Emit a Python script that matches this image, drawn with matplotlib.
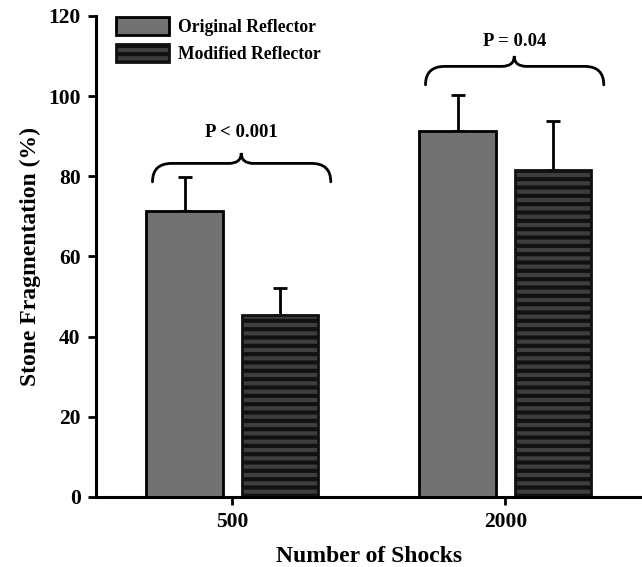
import numpy as np
import matplotlib
matplotlib.use("Agg")
import matplotlib.pyplot as plt
from matplotlib.path import Path
from matplotlib.patches import PathPatch

## Data
groups     = ["500", "2000"]
orig_mean  = [71.4, 91.2]
orig_err   = [8.3, 9.0]
mod_mean   = [45.3, 81.6]
mod_err    = [6.7, 12.3]
p_labels   = ["P < 0.001", "P = 0.04"]
p_text_y   = [91.0, 113.5]
brace_base = [78.6, 102.8]

plt.rcParams['font.family'] = ['Liberation Serif', 'DejaVu Serif']
plt.rcParams['font.weight'] = 'bold'
plt.rcParams['hatch.linewidth'] = 3.0


def brace(ax, x0, x1, xc, y0, h_line, h_tip, rx, rt):
    """ Curly brace opening downward, drawn as a path in data coords. """
    yl = y0 + h_line
    yt = y0 + h_tip
    verts = [(x0, y0), (x0, yl), (x0 + rx, yl),
             (xc - rt, yl),
             (xc, yl), (xc, yt),
             (xc, yl), (xc + rt, yl),
             (x1 - rx, yl),
             (x1, yl), (x1, y0)]
    codes = [Path.MOVETO, Path.CURVE3, Path.CURVE3,
             Path.LINETO,
             Path.CURVE3, Path.CURVE3,
             Path.CURVE3, Path.CURVE3,
             Path.LINETO,
             Path.CURVE3, Path.CURVE3]
    ax.add_patch(PathPatch(Path(verts, codes), fill=False, lw=2.0,
                           edgecolor='black', capstyle='round'))


fig = plt.figure(figsize=(6.42, 5.67), dpi=100)
ax = fig.add_axes([0.1495, 0.1235, 0.8505, 0.8485])

x = np.arange(len(groups))
w = 0.28
off = 0.175

ax.errorbar(x - off, orig_mean, yerr=[np.zeros(2), orig_err], fmt='none',
            ecolor='black', elinewidth=2, capsize=5, capthick=2, zorder=1)
ax.errorbar(x + off, mod_mean, yerr=[np.zeros(2), mod_err], fmt='none',
            ecolor='black', elinewidth=2, capsize=5, capthick=2, zorder=1)

ax.bar(x - off, orig_mean, width=w, color='#727272', edgecolor='black',
       linewidth=2, zorder=2, label='Original Reflector')
ax.bar(x + off, mod_mean, width=w, color='#3e3e3e', edgecolor='#111111',
       linewidth=2, hatch='--', zorder=2, label='Modified Reflector')

# Significance braces
for i in range(len(groups)):
    brace(ax, x[i] - 0.293, x[i] + 0.36, x[i] + 0.032, brace_base[i],
          4.6, 7.2, 0.07, 0.045)
    ax.text(x[i] + 0.032, p_text_y[i], p_labels[i], ha='center',
            va='center', fontsize=13.5, fontweight='bold')

ax.set_xlim(-0.5, 1.5)
ax.set_ylim(0, 120)
ax.set_yticks(np.arange(0, 121, 20))
ax.set_xticks(x)
ax.set_xticklabels(groups)

for s in ['top', 'right']:
    ax.spines[s].set_visible(False)
for s in ['left', 'bottom']:
    ax.spines[s].set_linewidth(2.2)
ax.tick_params(direction='out', length=6, width=2, labelsize=15.5, pad=5)

ax.set_xlabel('Number of Shocks', fontsize=17, fontweight='bold', labelpad=10)
ax.set_ylabel('Stone Fragmentation (%)', fontsize=17, fontweight='bold',
              labelpad=5)

ax.legend(loc='upper left', bbox_to_anchor=(0.037, 0.997), frameon=False,
          fontsize=12.7, handlelength=3.0, handleheight=1.2,
          handletextpad=0.5, labelspacing=0.45, borderpad=0,
          borderaxespad=0)

fig.savefig('out.png', dpi=100)
